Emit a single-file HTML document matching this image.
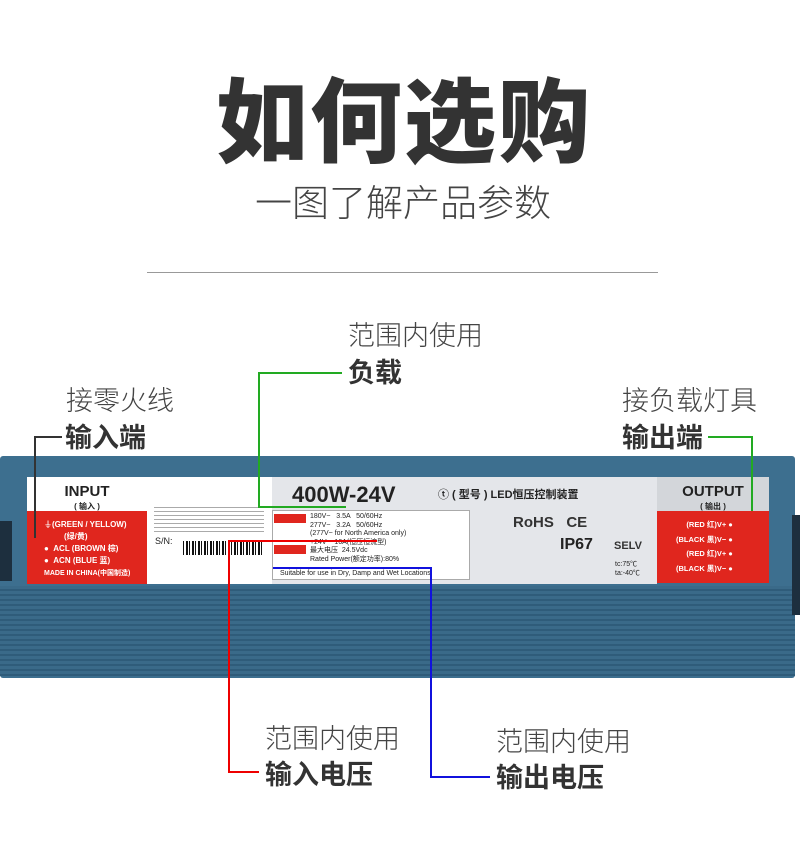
<!DOCTYPE html>
<html><head><meta charset="utf-8"><style>
*{margin:0;padding:0;box-sizing:border-box}
body{width:800px;height:855px;background:#fff;position:relative;overflow:hidden;font-family:"Liberation Sans","Noto Sans CJK SC",sans-serif;color:#333}
.a{position:absolute}
.t{font-family:"Liberation Sans","Noto Sans CJK SC",sans-serif;white-space:nowrap}
.l{font-size:27px;color:#444;font-weight:300;line-height:30px}
.b{font-size:27px;font-weight:700;color:#333;line-height:30px}
.ln{position:absolute}
</style></head><body>
<div class="a t" style="left:216px;top:64px;font-size:92px;font-weight:900;color:#333;letter-spacing:2px;line-height:120px">如何选购</div>
<div class="a t" style="left:255px;top:180px;font-size:37px;color:#444;font-weight:300;line-height:48px">一图了解产品参数</div>
<div class="a" style="left:147px;top:272px;width:511px;height:1px;background:#999"></div>

<div class="a" style="left:0;top:456px;width:795px;height:222px;background:#3d6f8f;border-radius:3px"></div>
<div class="a" style="left:0;top:586px;width:795px;height:90px;background:repeating-linear-gradient(#3a6a89 0,#3a6a89 3px,#2f5c7a 3px,#2f5c7a 5px)"></div>
<div class="a" style="left:0;top:521px;width:12px;height:60px;background:#1d2f3e"></div>
<div class="a" style="left:792px;top:515px;width:8px;height:100px;background:#1d2f3e"></div>

<div class="a" style="left:27px;top:477px;width:120px;height:34px;background:#fff"></div>
<div class="a t" style="left:27px;top:483px;width:120px;text-align:center;font-size:15px;font-weight:700;color:#222">INPUT<br><span style="font-size:8px;position:relative;top:-4px">( 输入 )</span></div>
<div class="a" style="left:27px;top:511px;width:120px;height:73px;background:#e0261e"></div>
<div class="a t" style="left:44px;top:519px;font-size:8px;font-weight:700;color:#fff;line-height:12px">⏚(GREEN / YELLOW)<br>&nbsp;&nbsp;&nbsp;&nbsp;&nbsp;&nbsp;&nbsp;&nbsp;&nbsp;(绿/黄)<br>● &nbsp;ACL (BROWN 棕)<br>● &nbsp;ACN (BLUE 蓝)<br><span style="font-size:7px">MADE IN CHINA(中国制造)</span></div>
<div class="a" style="left:147px;top:477px;width:125px;height:107px;background:#fff"></div>
<div class="a" style="left:154px;top:507px;width:110px;height:25px;background:repeating-linear-gradient(#aaa 0,#aaa 1px,#fff 1px,#fff 4px)"></div>
<div class="a t" style="left:155px;top:536px;font-size:9px;color:#222">S/N:</div>
<div class="a" style="left:183px;top:541px;width:80px;height:14px;background:repeating-linear-gradient(90deg,#111 0,#111 1px,#fff 1px,#fff 3px,#111 3px,#111 5px,#fff 5px,#fff 6px)"></div>
<div class="a" style="left:272px;top:477px;width:385px;height:107px;background:#e4e6ea"></div>
<div class="a t" style="left:292px;top:482px;font-size:22px;font-weight:700;color:#222">400W-24V</div>
<div class="a t" style="left:438px;top:486px;font-size:11px;font-weight:700;color:#222">ⓣ ( 型号 ) LED恒压控制装置</div>
<div class="a" style="left:272px;top:510px;width:198px;height:70px;background:#fff;border:1px solid #aaa"></div>
<div class="a" style="left:274px;top:514px;width:32px;height:9px;background:#e0261e"></div>
<div class="a" style="left:274px;top:545px;width:32px;height:9px;background:#e0261e"></div>
<div class="a t" style="left:310px;top:513px;font-size:7px;line-height:8.5px;color:#222">180V~ &nbsp;&nbsp;3.5A &nbsp;&nbsp;50/60Hz<br>277V~ &nbsp;&nbsp;3.2A &nbsp;&nbsp;50/60Hz<br>(277V~ for North America only)<br>+24V &nbsp;&nbsp;&nbsp;16A(恒压恒流型)<br>最大电压 &nbsp;24.5Vdc<br>Rated Power(额定功率):80%</div>
<div class="a t" style="left:280px;top:570px;font-size:7px;color:#222">Suitable for use in Dry, Damp and Wet Locations</div>
<div class="a t" style="left:513px;top:514px;font-size:15px;font-weight:700;color:#333">RoHS &nbsp;&nbsp;CE</div>
<div class="a t" style="left:560px;top:536px;font-size:16px;font-weight:700;color:#222">IP67</div>
<div class="a t" style="left:614px;top:540px;font-size:11px;font-weight:700;color:#333">SELV</div>
<div class="a t" style="left:615px;top:560px;font-size:7px;color:#222;line-height:9px">tc:75℃<br>ta:-40℃</div>
<div class="a" style="left:657px;top:477px;width:112px;height:34px;background:#d3d6da"></div>
<div class="a t" style="left:657px;top:483px;width:112px;text-align:center;font-size:15px;font-weight:700;color:#222">OUTPUT<br><span style="font-size:8px;position:relative;top:-4px">( 输出 )</span></div>
<div class="a" style="left:657px;top:511px;width:112px;height:72px;background:#e0261e"></div>
<div class="a t" style="left:676px;top:518px;font-size:7.5px;font-weight:700;color:#fff;line-height:14.5px;text-align:right">(RED 红)V+ ●<br>(BLACK 黑)V− ●<br>(RED 红)V+ ●<br>(BLACK 黑)V− ●</div>

<div class="a t l" style="left:66px;top:386px">接零火线</div>
<div class="a t b" style="left:65px;top:423px">输入端</div>
<div class="a t l" style="left:348px;top:321px">范围内使用</div>
<div class="a t b" style="left:348px;top:358px">负载</div>
<div class="a t l" style="left:622px;top:386px">接负载灯具</div>
<div class="a t b" style="left:622px;top:423px">输出端</div>
<div class="a t l" style="left:265px;top:724px">范围内使用</div>
<div class="a t b" style="left:265px;top:760px">输入电压</div>
<div class="a t l" style="left:496px;top:727px">范围内使用</div>
<div class="a t b" style="left:496px;top:763px">输出电压</div>

<div class="ln" style="left:34px;top:436px;width:28px;height:2px;background:#333"></div>
<div class="ln" style="left:34px;top:436px;width:2px;height:102px;background:#333"></div>
<div class="ln" style="left:258px;top:372px;width:84px;height:2px;background:#22aa22"></div>
<div class="ln" style="left:258px;top:372px;width:2px;height:136px;background:#22aa22"></div>
<div class="ln" style="left:258px;top:506px;width:88px;height:2px;background:#22aa22"></div>
<div class="ln" style="left:708px;top:436px;width:45px;height:2px;background:#22aa22"></div>
<div class="ln" style="left:751px;top:436px;width:2px;height:75px;background:#22aa22"></div>
<div class="ln" style="left:229px;top:540px;width:148px;height:2px;background:#e00"></div>
<div class="ln" style="left:228px;top:540px;width:2px;height:233px;background:#e00"></div>
<div class="ln" style="left:228px;top:771px;width:31px;height:2px;background:#e00"></div>
<div class="ln" style="left:273px;top:567px;width:159px;height:2px;background:#11d"></div>
<div class="ln" style="left:430px;top:567px;width:2px;height:211px;background:#11d"></div>
<div class="ln" style="left:430px;top:776px;width:60px;height:2px;background:#11d"></div>
</body></html>
